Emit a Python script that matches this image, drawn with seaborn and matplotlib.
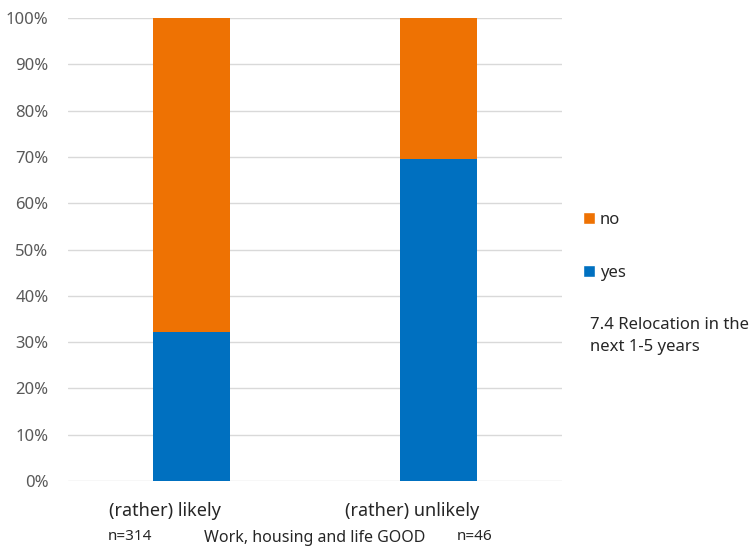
import matplotlib
matplotlib.use("Agg")
import matplotlib.pyplot as plt
import matplotlib.transforms as mtransforms
from matplotlib.patches import Patch
import seaborn as sns
import pandas as pd

# data
categories = ["(rather) likely", "(rather) unlikely"]
n_counts = ["n=314", "n=46"]
yes_pct = [32.2, 69.6]
no_pct = [100 - v for v in yes_pct]
series_names = ["no", "yes"]
yticks = list(range(0, 101, 10))
ytick_labels = [f"{t}%" for t in yticks]
xlabel = "Work, housing and life GOOD"
legend_title = "7.4 Relocation in the\nnext 1-5 years"

ORANGE = "#EE7203"
BLUE = "#0070C0"
GREY_TXT = "#595959"

sns.set_style("white")
plt.rcParams["font.family"] = ["Noto Sans", "DejaVu Sans"]

df = pd.DataFrame({"cat": categories, "yes": yes_pct, "no": no_pct})
df["total"] = df["yes"] + df["no"]

fig = plt.figure(figsize=(7.56, 5.47), dpi=100)
ax = fig.add_axes([68 / 756, 1 - 481 / 547, (562 - 68) / 756, (481 - 18) / 547])

# stacked: draw total (no on top) first, then yes from the bottom
sns.barplot(data=df, x="cat", y="total", color=ORANGE, width=0.31,
            saturation=1, linewidth=0, ax=ax, zorder=3)
sns.barplot(data=df, x="cat", y="yes", color=BLUE, width=0.31,
            saturation=1, linewidth=0, ax=ax, zorder=3)

ax.set_xlim(-0.5, 1.5)
ax.set_ylim(0, 100)
ax.set_yticks(yticks)
ax.set_yticklabels(ytick_labels, color=GREY_TXT, fontsize=12)
ax.tick_params(axis="y", length=0, pad=14)
ax.yaxis.grid(True, color="#D9D9D9", linewidth=1, zorder=0)
ax.set_axisbelow(True)
for s in ax.spines.values():
    s.set_visible(False)
ax.set_xlabel("")
ax.set_ylabel("")
ax.set_xticks(range(len(categories)))
ax.set_xticklabels([])
ax.tick_params(axis="x", length=0)

# category labels and counts (offset from bar centers, as in the original)
n_offsets = [-0.249, 0.148]
blend = mtransforms.blended_transform_factory(ax.transData, fig.transFigure)
for i, (c, n) in enumerate(zip(categories, n_counts)):
    ax.text(i - 0.107, 1 - 511 / 547, c, transform=blend, ha="center",
            va="center", fontsize=13, color="#262626")
    ax.text(i + n_offsets[i], 1 - 536 / 547, n,
            transform=blend, ha="center", va="center", fontsize=11,
            color="#262626")
fig.text(315 / 756, 1 - 538 / 547, xlabel, ha="center", va="center",
         fontsize=11.5, color="#262626")

# legend
handles = [Patch(facecolor=ORANGE, label="no"), Patch(facecolor=BLUE, label="yes")]
leg = fig.legend(handles=handles, labels=series_names, loc="upper left",
                 bbox_to_anchor=(568 / 756, 1 - 197 / 547), frameon=False,
                 fontsize=12, handlelength=0.7, handleheight=0.7,
                 handletextpad=0.3, labelspacing=2.2)
fig.text(590 / 756, 1 - 336 / 547, legend_title, ha="left", va="center",
         fontsize=12, color="#262626", linespacing=1.45)

fig.savefig("out.png", dpi=100)
